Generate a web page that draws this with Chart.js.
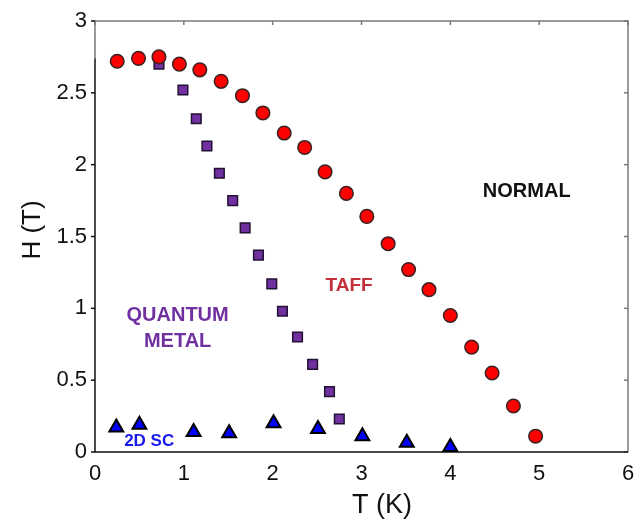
<!DOCTYPE html>
<html>
<head>
<meta charset="utf-8">
<script src="https://cdn.jsdelivr.net/npm/chart.js@4.4.1/dist/chart.umd.min.js"></script>
<style>
  html,body{margin:0;padding:0;background:#fff;}
  #wrap{width:639px;height:524px;position:relative;}
</style>
</head>
<body>
<div id="wrap"><canvas id="c" width="639" height="524"></canvas></div>
<script>
// ---- data ----
const taffT = [0.25,0.49,0.72,0.95,1.18,1.42,1.66,1.89,2.13,2.36,2.59,2.83,3.06,3.30,3.53,3.76,4.00,4.24,4.47,4.71,4.96];
const taffH = [2.72,2.74,2.75,2.70,2.66,2.58,2.48,2.36,2.22,2.12,1.95,1.80,1.64,1.45,1.27,1.13,0.95,0.73,0.55,0.32,0.11];
const qmT = [0.72,0.99,1.14,1.26,1.40,1.55,1.69,1.84,1.99,2.11,2.28,2.45,2.64,2.75];
const qmH = [2.70,2.52,2.32,2.13,1.94,1.75,1.56,1.37,1.17,0.98,0.80,0.61,0.42,0.23];
const scT = [0.24,0.50,1.11,1.51,2.01,2.51,3.01,3.51,4.00];
const scH = [0.17,0.19,0.14,0.13,0.20,0.16,0.11,0.065,0.035];
const xTicks = [0,1,2,3,4,5,6];
const yTicks = [0,0.5,1,1.5,2,2.5,3];
const regionLabels = ['NORMAL','TAFF','QUANTUM','METAL','2D SC'];

const toPts = (xs, ys) => xs.map((x, i) => ({x: x, y: ys[i]}));

// label placement / styles (not data)
const labelPos = [
  {x:4.86, y:1.81, color:'#111111', size:20},
  {x:2.86, y:1.16, color:'#c4303a', size:19},
  {x:0.93, y:0.953, color:'#7030a0', size:20},
  {x:0.93, y:0.77, color:'#7030a0', size:20},
  {x:0.61, y:0.072, color:'#1a1aee', size:17}
];

const frame = {
  id: 'frame',
  beforeDatasetsDraw(chart) {
    const {ctx, chartArea: a, scales: {x, y}} = chart;
    ctx.save();
    ctx.lineWidth = 1.5;
    ctx.strokeStyle = '#7a7a7a';
    ctx.beginPath();
    ctx.moveTo(a.left, y.getPixelForValue(2.74));
    ctx.lineTo(a.left, a.top);
    ctx.lineTo(a.right, a.top);
    ctx.lineTo(a.right, a.bottom);
    ctx.stroke();
    xTicks.forEach(v => {
      const px = x.getPixelForValue(v);
      ctx.beginPath(); ctx.moveTo(px, a.top); ctx.lineTo(px, a.top + 4); ctx.stroke();
    });
    yTicks.forEach(v => {
      const py = y.getPixelForValue(v);
      ctx.beginPath(); ctx.moveTo(a.right, py); ctx.lineTo(a.right - 4, py); ctx.stroke();
    });
    ctx.strokeStyle = '#111111';
    ctx.beginPath();
    ctx.moveTo(a.left, y.getPixelForValue(2.74));
    ctx.lineTo(a.left, a.bottom);
    ctx.lineTo(a.right, a.bottom);
    ctx.stroke();
    yTicks.forEach(v => {
      const py = y.getPixelForValue(v);
      ctx.beginPath(); ctx.moveTo(a.left, py); ctx.lineTo(a.left - 4, py); ctx.stroke();
    });
    ctx.restore();
  },
  afterDatasetsDraw(chart) {
    const {ctx, scales: {x, y}} = chart;
    ctx.save();
    ctx.textAlign = 'center';
    ctx.textBaseline = 'middle';
    regionLabels.forEach((t, i) => {
      const p = labelPos[i];
      ctx.font = 'bold ' + p.size + 'px "Liberation Sans", Arial, sans-serif';
      ctx.fillStyle = p.color;
      ctx.fillText(t, x.getPixelForValue(p.x), y.getPixelForValue(p.y));
    });
    ctx.fillStyle = '#111111';
    ctx.font = '27px "Liberation Sans", Arial, sans-serif';
    ctx.fillText('T (K)', 382, 506);
    ctx.translate(33, 230);
    ctx.rotate(-Math.PI / 2);
    ctx.font = '26px "Liberation Sans", Arial, sans-serif';
    ctx.fillText('H (T)', 0, 0);
    ctx.restore();
  }
};

new Chart(document.getElementById('c'), {
  type: 'scatter',
  data: {
    datasets: [
      {
        label: 'TAFF',
        data: toPts(taffT, taffH),
        pointStyle: 'circle',
        pointRadius: 6.8,
        backgroundColor: '#ff0000',
        borderColor: '#3a2222',
        borderWidth: 1.5
      },
      {
        label: 'Quantum metal',
        data: toPts(qmT, qmH),
        pointStyle: 'rect',
        pointRadius: 6.8,
        backgroundColor: '#7030a0',
        borderColor: '#221133',
        borderWidth: 1.5
      },
      {
        label: '2D SC',
        data: toPts(scT, scH),
        pointStyle: 'triangle',
        pointRadius: 8,
        backgroundColor: '#0000ff',
        borderColor: '#000000',
        borderWidth: 2
      }
    ]
  },
  options: {
    responsive: false,
    animation: false,
    layout: {padding: {top: 21, right: 11, left: 0, bottom: 0}},
    plugins: {legend: {display: false}, tooltip: {enabled: false}},
    scales: {
      x: {
        type: 'linear',
        min: 0, max: 6,
        afterFit: s => { s.height = 72; s.paddingRight = 0; s.paddingLeft = 0; },
        afterBuildTicks: s => { s.ticks = xTicks.map(v => ({value: v})); },
        grid: {display: false, drawTicks: false},
        border: {display: false},
        ticks: {
          padding: 9,
          color: '#111111',
          font: {family: '"Liberation Sans", Arial, sans-serif', size: 22},
          maxRotation: 0
        }
      },
      y: {
        type: 'linear',
        min: 0, max: 3,
        afterFit: s => { s.width = 95; s.paddingTop = 0; s.paddingBottom = 0; },
        afterBuildTicks: s => { s.ticks = yTicks.map(v => ({value: v})); },
        grid: {display: false, drawTicks: false},
        border: {display: false},
        ticks: {
          padding: 8,
          color: '#111111',
          font: {family: '"Liberation Sans", Arial, sans-serif', size: 22},
          callback: v => String(v)
        }
      }
    }
  },
  plugins: [frame]
});
</script>
</body>
</html>
